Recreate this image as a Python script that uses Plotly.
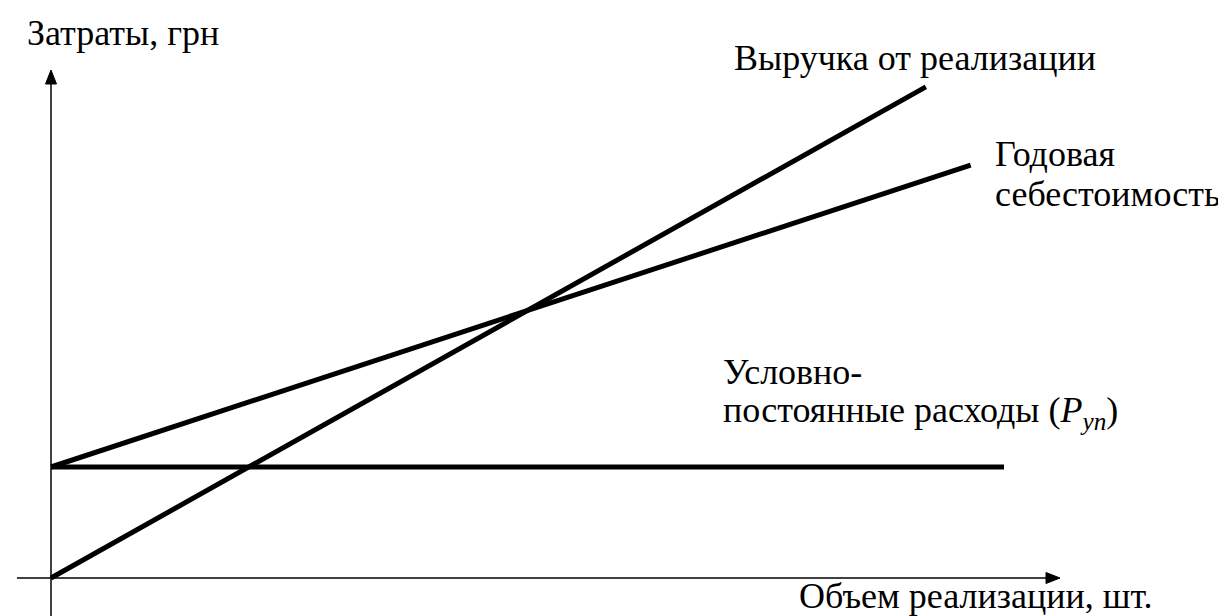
import plotly.graph_objects as go

# --- data (schematic break-even chart) ---
revenue_x = [0, 91.8]
revenue_y = [0, 88.5]        # выручка от реализации
cost_x = [0, 96.5]
cost_y = [20, 74.4]          # годовая себестоимость
fixed_x = [0, 100]
fixed_y = [20, 20]           # условно-постоянные расходы

W, H = 1226, 616
PX_X0, PX_Y0 = 43, 570        # origin in pixels
KX, KY = 9.53, 5.55           # pixels per unit

x_range = [(0 - PX_X0) / KX, (W - PX_X0) / KX]
y_range = [(PX_Y0 - H) / KY, PX_Y0 / KY]

FONT = "Liberation Serif"
FS = 36
LINE = dict(color="black", width=5)

fig = go.Figure()
fig.add_trace(go.Scatter(x=revenue_x, y=revenue_y, mode="lines", line=LINE, hoverinfo="skip"))
fig.add_trace(go.Scatter(x=cost_x, y=cost_y, mode="lines", line=LINE, hoverinfo="skip"))
fig.add_trace(go.Scatter(x=fixed_x, y=fixed_y, mode="lines", line=LINE, hoverinfo="skip"))

def px_to_x(px):
    return (px - PX_X0) / KX

def px_to_y(py):
    return (PX_Y0 - py) / KY

def path(points):
    return "M " + " L ".join(f"{px_to_x(a)},{px_to_y(b)}" for a, b in points) + " Z"

shapes = [
    # x axis
    dict(type="line", xref="x", yref="y", x0=px_to_x(9), y0=0, x1=px_to_x(1041), y1=0,
         line=dict(color="black", width=1.5)),
    dict(type="path", xref="x", yref="y", path=path([(1052, 570), (1038, 564.5), (1038, 575.5)]),
         fillcolor="black", line=dict(color="black", width=1)),
    # y axis
    dict(type="line", xref="x", yref="y", x0=0, y0=px_to_y(615), x1=0, y1=px_to_y(73),
         line=dict(color="black", width=1.5)),
    dict(type="path", xref="x", yref="y", path=path([(43, 62), (37.5, 76), (48.5, 76)]),
         fillcolor="black", line=dict(color="black", width=1)),
]

ann = []

def label(text, px, py, xanchor="left"):
    ann.append(dict(text=text, x=px / W, y=1 - py / H, xref="paper", yref="paper",
                    xanchor=xanchor, yanchor="middle", showarrow=False,
                    font=dict(family=FONT, size=FS, color="black")))

label("Затраты, грн", 17, 25)
label("Выручка от реализации", 724, 50)
label("Годовая", 985, 146)
label("себестоимость", 985, 186)
label("Условно-", 713, 364)
label("постоянные расходы (<i>P<sub>уп</sub></i>)", 713, 404)
label("Объем реализации, шт.", 1146, 588, xanchor="right")

fig.update_layout(
    width=W, height=H, autosize=False,
    margin=dict(l=0, r=0, t=0, b=0),
    paper_bgcolor="white", plot_bgcolor="white",
    showlegend=False,
    font=dict(family=FONT),
    xaxis=dict(range=x_range, visible=False, fixedrange=True),
    yaxis=dict(range=y_range, visible=False, fixedrange=True),
    annotations=ann,
    shapes=shapes,
)

fig.write_html("out.html", config={"displayModeBar": False})
